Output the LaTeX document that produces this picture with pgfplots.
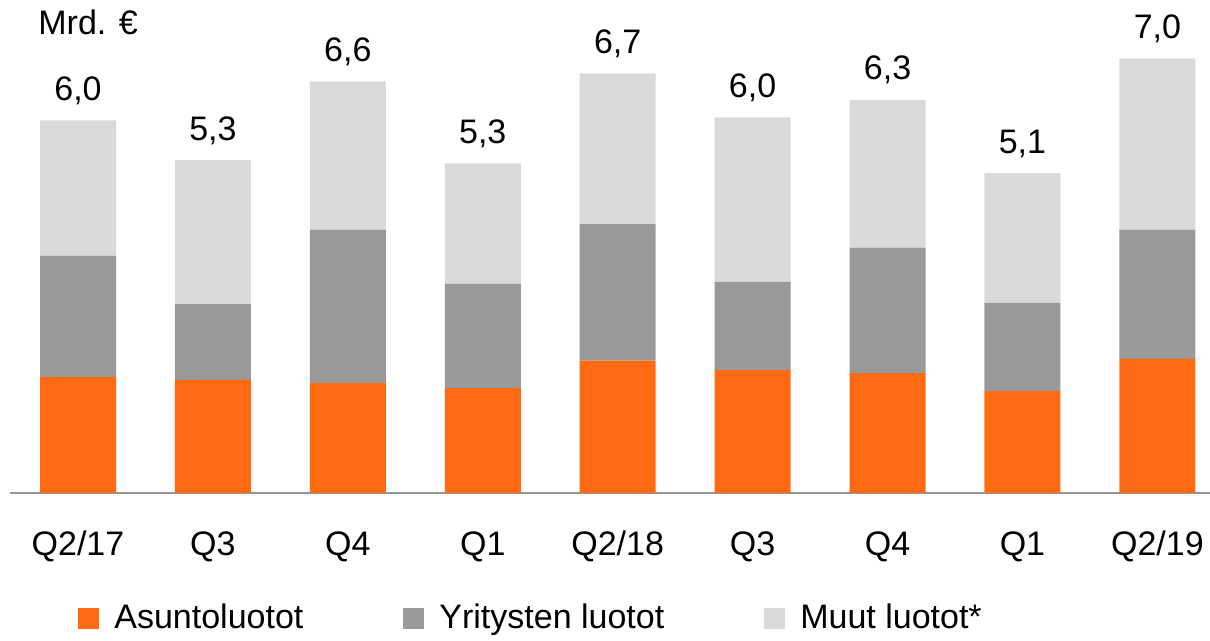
\documentclass[border=0pt]{standalone}
\usepackage{fontspec}
\setmainfont{Liberation Sans}
\usepackage{pgfplots}
\usepackage{pgfplotstable}
\pgfplotsset{compat=1.18}
\definecolor{asunto}{RGB}{255,106,19}
\definecolor{yritys}{RGB}{153,153,153}
\definecolor{muut}{RGB}{218,218,218}
\definecolor{axisgray}{RGB}{150,150,150}

\pgfplotstableread{
x   asunto yritys muut total top
0   1.87   1.95   2.18 6.0   6.00
1   1.82   1.22   2.32 5.3   5.36
2   1.77   2.47   2.39 6.6   6.63
3   1.69   1.68   1.94 5.3   5.31
4   2.13   2.20   2.43 6.7   6.76
5   1.98   1.42   2.65 6.0   6.05
6   1.93   2.02   2.38 6.3   6.33
7   1.64   1.42   2.09 5.1   5.15
8   2.16   2.08   2.76 7.0   7.00
}\loans

\pgfplotsset{
    loanaxis/.style={
        at={(0,0)}, anchor=south west,
        scale only axis,
        width=600pt, height=246.5pt,
        xmin=-0.504, xmax=8.39,
        ymin=0, ymax=7.94,
        clip=false,
        /pgf/number format/assume math mode=true,
    },
}

\begin{document}
\fontsize{17}{20}\selectfont
\begin{tikzpicture}
\begin{axis}[
    loanaxis,
    ybar stacked,
    bar width=38pt,
    axis x line=bottom,
    axis y line=none,
    x axis line style={draw=axisgray, line width=1pt, -},
    major tick length=0pt,
    xtick={0,...,8},
    xticklabels={Q2/17,Q3,Q4,Q1,Q2/18,Q3,Q4,Q1,Q2/19},
    xticklabel style={anchor=base, yshift=-31.5pt, font=\fontsize{17}{20}\selectfont},
    legend columns=3,
    legend style={draw=none, fill=none, at={(31pt,-63pt)}, anchor=west,
        font=\fontsize{17}{20}\selectfont,
        /tikz/every odd column/.append style={column sep=5.5pt},
        /tikz/every even column/.append style={column sep=48pt}},
    legend cell align=left,
    area legend,
    legend image code/.code={\fill[#1, draw=none] (0pt,-5.25pt) rectangle (10.5pt,5.25pt);},
]
\addplot[fill=asunto, draw=none] table[x=x, y=asunto] {\loans};
\addplot[fill=yritys, draw=none] table[x=x, y=yritys] {\loans};
\addplot[fill=muut, draw=none] table[x=x, y=muut] {\loans};
\legend{Asuntoluotot, Yritysten luotot, Muut luotot*}
\node[anchor=base west, inner sep=0pt] at ([xshift=14pt, yshift=-17.5pt]rel axis cs:0,1) {Mrd. €};
\end{axis}
\begin{axis}[
    loanaxis,
    hide axis,
]
\addplot[only marks, mark=none,
    point meta=\thisrow{total},
    nodes near coords,
    nodes near coords style={anchor=base, inner sep=0pt, yshift=10pt, text=black,
        font=\fontsize{17}{20}\selectfont,
        /pgf/number format/.cd, fixed, fixed zerofill, precision=1, use comma, assume math mode=true},
] table[x=x, y=top] {\loans};
\end{axis}
\pgfresetboundingbox
\path (-5pt,-74pt) rectangle (600pt,246.5pt);
\end{tikzpicture}
\end{document}
